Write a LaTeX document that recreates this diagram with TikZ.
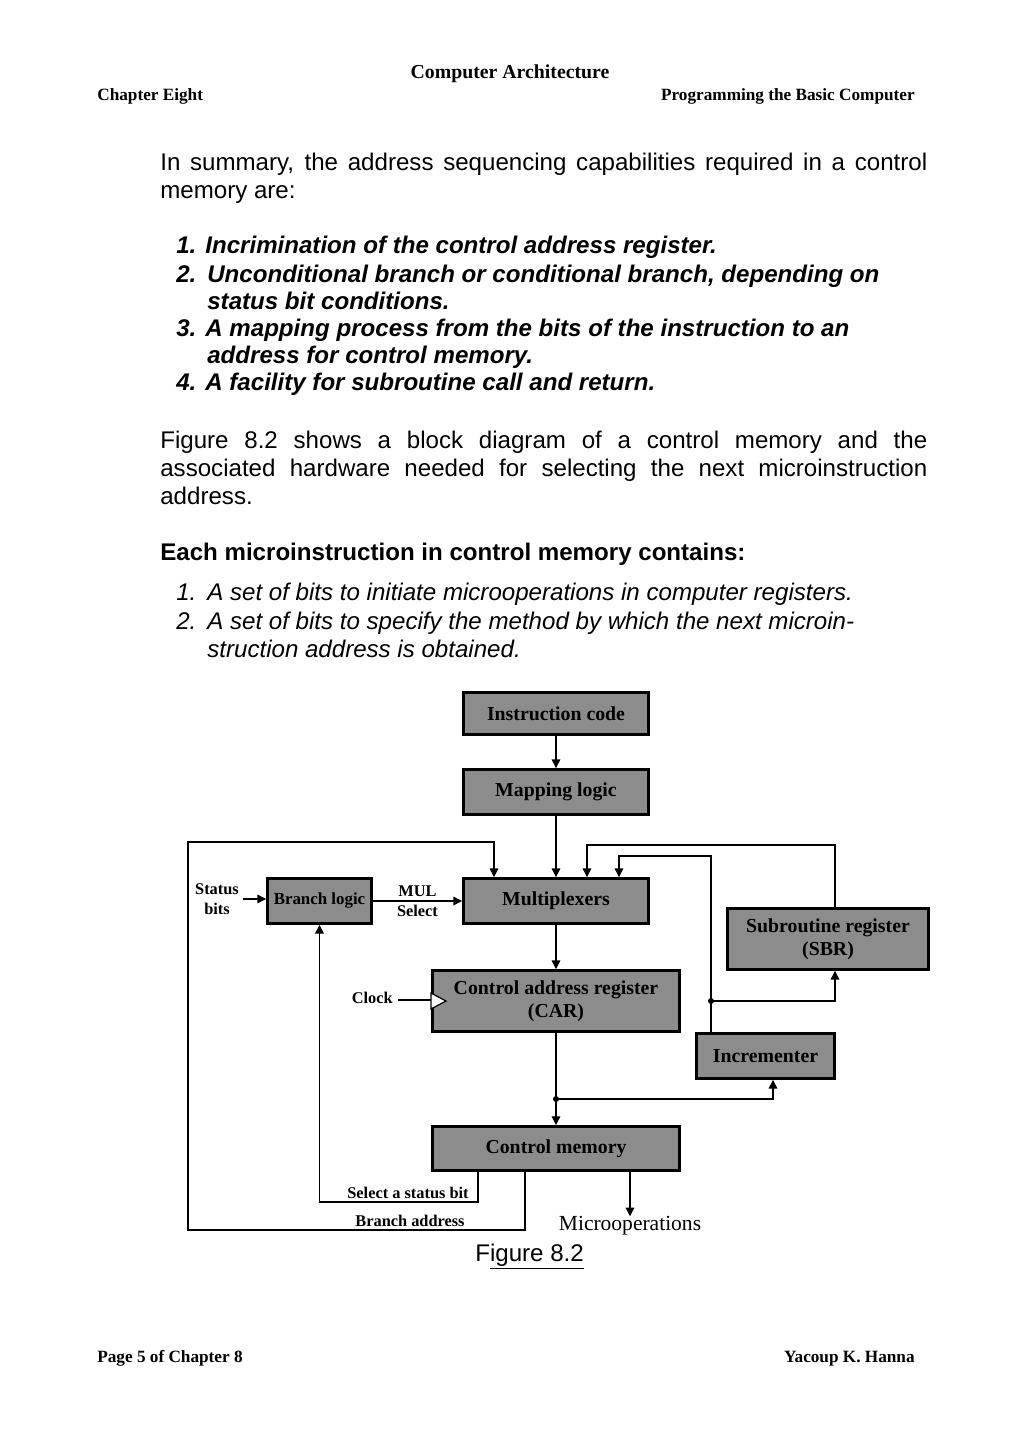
\documentclass[tikz,border=0pt]{standalone}
\usepackage{fontspec}
\setmainfont{Liberation Sans}
\newfontfamily\diagfont{Liberation Serif}
\usetikzlibrary{arrows.meta}
\definecolor{boxgray}{RGB}{140,140,140}
\newcommand\fullline[1]{\makebox[445.6pt][s]{#1}}
\newcommand\numbox[1]{\makebox[18pt][l]{#1}}

\begin{document}
\begin{tikzpicture}
	[x=0.581pt,y=-0.581pt,
	txt/.style={anchor=base west,inner sep=0pt,font=\fontsize{14}{16}\selectfont},
	itm/.style={txt,font=\bfseries\itshape\fontsize{14}{16}\selectfont},
	sub/.style={txt,font=\itshape\fontsize{14}{16}\selectfont},
	hdr/.style={inner sep=0pt,font=\diagfont\bfseries\fontsize{10}{12}\selectfont},
	blk/.style={draw,line width=1.7pt,fill=boxgray,inner sep=0pt,align=center,font=\diagfont\bfseries\fontsize{11.5}{13.5}\selectfont},
	lbl/.style={inner sep=0pt,align=center,font=\diagfont\bfseries\fontsize{9.5}{11.5}\selectfont},
	wire/.style={line width=0.7pt},
	arr/.style={wire,-{Triangle[length=5pt,width=5pt]}},
	dot/.style={circle,fill,inner sep=0pt,minimum size=3.5pt}]
	\useasboundingbox (0,0) rectangle (1024,1449);
	\node[hdr,anchor=base,font=\diagfont\bfseries\fontsize{11.5}{13}\selectfont] (title) at (510,79) {Computer Architecture};
	\node[hdr,anchor=base west] (chap) at (97,101) {Chapter Eight};
	\node[hdr,anchor=base east] (topic) at (915,101) {Programming the Basic Computer};
	\node[txt] (p1) at (160,171) {\fullline{In summary, the address sequencing capabilities required in a control}};
	\node[txt] (p2) at (160,199) {memory are:};
	\node[itm] (a1) at (176,254) {1. Incrimination of the control address register.};
	\node[itm] (a2) at (176,283) {\numbox{2.}Unconditional branch or conditional branch, depending on};
	\node[itm] (a2b) at (207,310) {status bit conditions.};
	\node[itm] (a3) at (176,337) {3. A mapping process from the bits of the instruction to an};
	\node[itm] (a3b) at (207,364) {address for control memory.};
	\node[itm] (a4) at (176,391) {4. A facility for subroutine call and return.};
	\node[txt] (q1) at (160,449) {\fullline{Figure 8.2 shows a block diagram of a control memory and the}};
	\node[txt] (q2) at (160,477) {\fullline{associated hardware needed for selecting the next microinstruction}};
	\node[txt] (q3) at (160,504) {address.};
	\node[txt,font=\bfseries\fontsize{14}{16}\selectfont] (each) at (160,560) {Each microinstruction in control memory contains:};
	\node[sub] (b1) at (176,600) {\numbox{1.}A set of bits to initiate microoperations in computer registers.};
	\node[sub] (b2) at (176,629) {\numbox{2.}A set of bits to specify the method by which the next microin-};
	\node[sub] (b2b) at (207,657) {struction address is obtained.};
	\node[blk,minimum width=107.5pt,minimum height=24.4pt] (ic) at (556,713.5) {Instruction code};
	\node[blk,minimum width=107.5pt,minimum height=26.1pt] (ml) at (556,792) {Mapping logic};
	\node[blk,minimum width=107.5pt,minimum height=26.1pt] (mux) at (556,901) {Multiplexers};
	\node[blk,minimum width=60.4pt,minimum height=26.1pt,font=\diagfont\bfseries\fontsize{9.8}{12}\selectfont] (bl) at (319.5,901) {Branch logic};
	\node[blk,minimum width=116.8pt,minimum height=35.4pt] (sbr) at (828,939) {Subroutine register\\(SBR)};
	\node[blk,minimum width=143.5pt,minimum height=35.4pt] (car) at (556,1001) {Control address register\\(CAR)};
	\node[blk,minimum width=80.2pt,minimum height=26.1pt] (inc) at (765.5,1056) {Incrementer};
	\node[blk,minimum width=143.5pt,minimum height=25.6pt] (cm) at (556,1148.5) {Control memory};
	\node[lbl] (st) at (217,899) {Status\\bits};
	\node[lbl,anchor=east] (clock) at (393,998) {Clock};
	\node[lbl] (ssb) at (408,1193) {Select a status bit};
	\node[lbl] (badr) at (410,1221) {Branch address};
	\node[inner sep=0pt,font=\diagfont\fontsize{12.5}{14}\selectfont] (mo) at (630,1226) {Microoperations};
	\node[txt] (cap) at (475,1261) {F\underline{igure 8.2}};
	\node[hdr,anchor=base west] (page) at (97,1362) {Page 5 of Chapter 8};
	\node[hdr,anchor=base east] (auth) at (915,1362) {Yacoup K. Hanna};
	\coordinate (ba) at (525,1230);
	\coordinate (lt) at (188,842);
	\coordinate (m1) at (494,842);
	\coordinate (sb) at (478,1202);
	\coordinate (s1) at (835,845);
	\coordinate (s2) at (587,845);
	\coordinate (i1) at (711,856);
	\coordinate (i2) at (619,856);
	\coordinate (d1) at (711,1001);
	\coordinate (d2) at (556,1099);
	\coordinate (i3) at (773,1099);
	\coordinate (clk) at (398,1000);
	\draw[arr] (ic.south) -- (ml.north);
	\draw[arr] (ml.south) -- (mux.north);
	\draw[arr] (mux.south) -- (car.north);
	\draw[arr] (car.south) -- (cm.north);
	\draw[arr] ([xshift=2pt]st.east) -- (st.east -| bl.west);
	\draw[arr] (bl.east) -- (mux.west) node[lbl,midway,above=2pt] {MUL} node[lbl,midway,below=2pt] {Select};
	\draw[wire] (clk) -- (clk -| car.west);
	\draw[wire,fill=white] ([yshift=4.6pt]car.west) -- ([xshift=8.7pt]car.west) -- ([yshift=-4.6pt]car.west) -- cycle;
	\draw[arr] (cm.south -| ba) -- (ba) -| (lt) -- (m1) -- (mux.north -| m1);
	\draw[arr] (cm.south -| sb) -- (sb) -| (bl.south);
	\draw[arr] (sbr.north -| s1) -- (s1) -- (s2) -- (mux.north -| s2);
	\draw[arr] (inc.north -| i1) -- (i1) -- (i2) -- (mux.north -| i2);
	\draw[arr] (d1) -| (sbr.south -| s1);
	\draw[arr] (d2) -- (i3) -- (inc.south -| i3);
	\draw[arr] (cm.south -| mo) -- (mo.north);
	\node[dot] at (d1) {};
	\node[dot] at (d2) {};
\end{tikzpicture}
\end{document}
